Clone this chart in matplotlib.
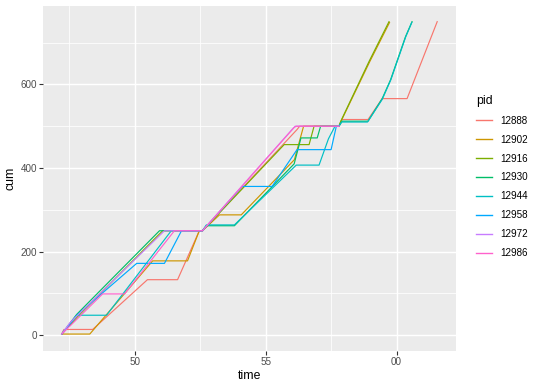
"""Cumulative count per worker process over time."""

import matplotlib

matplotlib.use("Agg")
import matplotlib.pyplot as plt
from matplotlib.ticker import FixedLocator

# time is minutes past the hour; 60 wraps to "00"
t_12888 = [47.22, 47.30, 48.40, 50.49, 51.64, 52.47, 52.59, 56.20, 56.30,
           57.80, 57.92, 58.91, 59.45, 60.40, 61.55]
c_12888 = [3, 14, 14, 133, 133, 250, 250, 492, 500, 500, 516, 516, 566, 566, 750]

t_12902 = [47.22, 48.29, 50.69, 52.02, 52.47, 52.59, 53.24, 54.07, 56.10,
           56.45, 57.80, 57.88, 58.98, 59.73]
c_12902 = [3, 3, 178, 178, 250, 250, 288, 288, 420, 500, 500, 512, 655, 748]

t_12916 = [47.22, 47.83, 51.07, 52.59, 55.71, 56.66, 56.85, 57.80, 57.87,
           58.95, 59.71]
c_12916 = [3, 45, 250, 250, 456, 456, 500, 500, 512, 655, 750]

t_12930 = [47.22, 47.79, 50.95, 52.59, 52.74, 53.81, 56.09, 56.35, 56.97,
           57.10, 57.80, 57.92, 58.91, 59.45, 59.77, 60.34, 60.59]
c_12930 = [3, 50, 250, 250, 262, 262, 410, 472, 472, 500, 500, 512, 512,
           566, 611, 714, 750]

t_12944 = [47.22, 47.79, 48.93, 51.40, 52.59, 52.74, 53.81, 56.17, 57.04,
           57.40, 57.65, 57.80, 57.90, 58.89, 59.45, 59.78, 60.35, 60.58]
c_12944 = [3, 48, 48, 250, 250, 264, 264, 407, 407, 470, 500, 500, 510, 510,
           564, 611, 714, 748]

t_12958 = [47.22, 47.83, 50.08, 51.14, 51.79, 52.59, 54.11, 55.25, 56.20,
           57.50, 57.70, 57.80]
c_12958 = [3, 50, 172, 172, 250, 250, 356, 356, 444, 444, 500, 500]

t_12972 = [47.22, 47.53, 51.14, 52.59, 56.05, 56.13, 57.80]
c_12972 = [3, 30, 250, 250, 495, 500, 500]

t_12986 = [47.22, 48.78, 49.62, 51.52, 52.59, 56.09, 56.17, 57.80]
c_12986 = [3, 99, 99, 250, 250, 497, 500, 500]

pids = ["12888", "12902", "12916", "12930", "12944", "12958", "12972", "12986"]
times = [t_12888, t_12902, t_12916, t_12930, t_12944, t_12958, t_12972, t_12986]
cums = [c_12888, c_12902, c_12916, c_12930, c_12944, c_12958, c_12972, c_12986]
colors = ["#F8766D", "#CD9600", "#7CAE00", "#00BE67",
          "#00BFC4", "#00A9FF", "#C77CFF", "#FF61CC"]

x_ticks = [50, 55, 60]
x_labels = ["50", "55", "00"]
y_ticks = [0, 200, 400, 600]


def main() -> None:
    plt.rcParams["font.family"] = ["Liberation Sans", "DejaVu Sans"]

    fig = plt.figure(figsize=(5.4, 3.86), dpi=100)
    ax = fig.add_axes([0.0796, 0.0907, 0.7648, 0.8938])
    ax.set_facecolor("#EBEBEB")

    for pid, t, c, col in zip(pids, times, cums, colors):
        ax.plot(t, c, color=col, lw=0.85, label=pid, solid_joinstyle="round")

    # ggplot-style expansion of 5% on each side
    xmin = min(min(t) for t in times)
    xmax = max(max(t) for t in times)
    ymin = min(min(c) for c in cums)
    ymax = max(max(c) for c in cums)
    dx = (xmax - xmin) * 0.05
    dy = (ymax - 0) * 0.05
    ax.set_xlim(xmin - dx, xmax + dx)
    ax.set_ylim(min(ymin, 0) - dy, ymax + dy)

    ax.xaxis.set_major_locator(FixedLocator(x_ticks))
    ax.set_xticklabels(x_labels)
    ax.xaxis.set_minor_locator(FixedLocator([47.5, 52.5, 57.5, 62.5]))
    ax.yaxis.set_major_locator(FixedLocator(y_ticks))
    ax.yaxis.set_minor_locator(FixedLocator([100, 300, 500, 700]))

    ax.grid(which="major", color="white", lw=1.05)
    ax.grid(which="minor", color="white", lw=0.55)
    ax.set_axisbelow(True)
    for s in ax.spines.values():
        s.set_visible(False)

    ax.tick_params(which="major", length=2.6, width=0.8, color="#333333",
                   labelsize=7.1, labelcolor="#4D4D4D", pad=1.8)
    ax.tick_params(which="minor", length=0)

    ax.set_xlabel("time", fontsize=8.8, labelpad=2)
    ax.set_ylabel("cum", fontsize=8.8, labelpad=3)

    leg = fig.legend(loc="upper left", bbox_to_anchor=(0.8815, 0.754),
                     title="pid", frameon=False, fontsize=7.1,
                     title_fontsize=8.8, handlelength=1.6, handletextpad=0.85,
                     labelspacing=0.9, borderpad=0, borderaxespad=0,
                     alignment="left")
    for line in leg.get_lines():
        line.set_linewidth(1.0)

    fig.savefig("out.png", dpi=100)


if __name__ == "__main__":
    main()
